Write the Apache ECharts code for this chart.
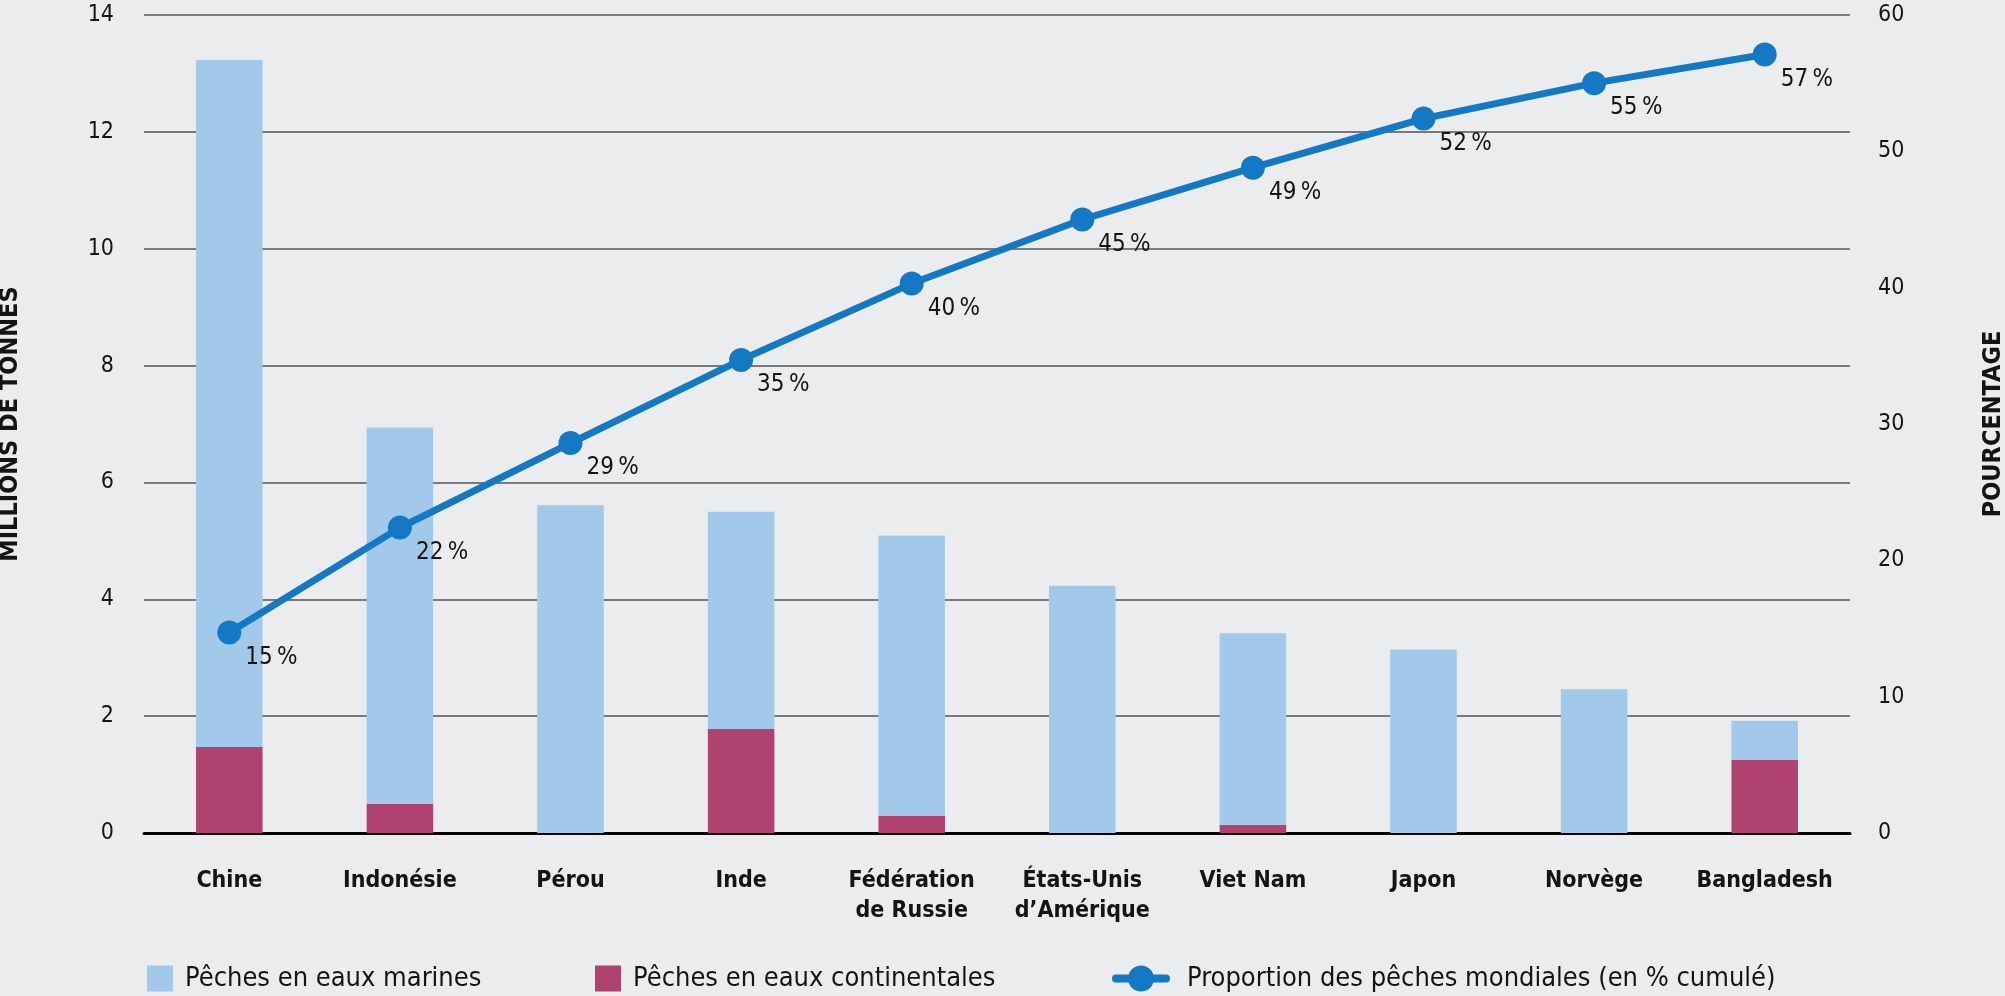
<!DOCTYPE html>
<html>
<head>
<meta charset="utf-8">
<script src="https://cdn.jsdelivr.net/npm/echarts@6/dist/echarts.min.js"></script>
<style>
html,body{margin:0;padding:0;background:#EBECEE;}
#c{width:2005px;height:996px;}
</style>
</head>
<body>
<div id="c"></div>
<script>
var categories = ['Chine','Indonésie','Pérou','Inde','Fédération\nde Russie','États-Unis\nd’Amérique','Viet Nam','Japon','Norvège','Bangladesh'];
var marineTotal = [13.23, 6.94, 5.61, 5.50, 5.09, 4.23, 3.42, 3.14, 2.46, 1.92];
var continental = [1.47, 0.50, 0, 1.78, 0.29, 0, 0.14, 0, 0, 1.25];
var cumulativeShare = [14.7, 22.4, 28.6, 34.7, 40.3, 45.0, 48.8, 52.4, 55.0, 57.1];
var leftTicks = {min: 0, max: 14, interval: 2};
var rightTicks = {min: 0, max: 60, interval: 10};

var names = ['Pêches en eaux marines','Pêches en eaux continentales','Proportion des pêches mondiales (en % cumulé)'];
var marine = marineTotal.map(function(t,i){ return +(t - continental[i]).toFixed(2); });

var FONT = '"Liberation Sans Narrow","DejaVu Sans Condensed","Roboto Condensed",sans-serif';
var INK = '#141414';
var LINE_ICON = 'path://M4 9h50a4 4 0 0 1 0 8h-50a4 4 0 0 1 0-8zM29 0a13 13 0 1 1 0 26a13 13 0 1 1 0-26z';

var chart = echarts.init(document.getElementById('c'), null, {renderer:'canvas'});
function legendFor(item, left, w, gap){
  return {
    data:[item], left:left, top:965, padding:0, itemWidth:w, itemHeight:26,
    selectedMode:false,
    textStyle:{fontFamily:FONT, fontSize:27, color:INK, padding:[0,0,0,gap]}
  };
}
chart.setOption({
  backgroundColor:'#EBECEE',
  animation:false,
  textStyle:{fontFamily:FONT},
  grid:{left:144, right:155, top:15, bottom:163, outerBoundsMode:'none', containLabel:false},
  legend:[
    legendFor({name:names[0], icon:'rect'},147,26,7),
    legendFor({name:names[1], icon:'rect'},595,26,7),
    legendFor({name:names[2], icon:LINE_ICON},1112,58,12)
  ],
  xAxis:{
    type:'category', data:categories,
    axisLine:{lineStyle:{color:'#000', width:3}},
    axisTick:{show:false},
    axisLabel:{fontFamily:FONT, fontSize:23, fontWeight:'bold', color:INK, margin:33, lineHeight:30, interval:0}
  },
  yAxis:[{
    type:'value', min:leftTicks.min, max:leftTicks.max, interval:leftTicks.interval,
    name:'MILLIONS DE TONNES', nameLocation:'middle', nameGap:121,
    nameTextStyle:{fontFamily:FONT, fontSize:25, fontWeight:'bold', color:INK},
    axisLine:{show:false}, axisTick:{show:false},
    axisLabel:{fontFamily:FONT, fontSize:23, color:INK, margin:30},
    splitLine:{lineStyle:{color:'#555', width:1.5}}
  },{
    type:'value', min:rightTicks.min, max:rightTicks.max, interval:rightTicks.interval,
    name:'POURCENTAGE', nameLocation:'middle', nameGap:131,
    nameTextStyle:{fontFamily:FONT, fontSize:25, fontWeight:'bold', color:INK},
    axisLine:{show:false}, axisTick:{show:false},
    axisLabel:{fontFamily:FONT, fontSize:23, color:INK, margin:28},
    splitLine:{show:false}
  }],
  series:[{
    name:names[1], type:'bar', stack:'t', data:continental, barWidth:'39%',
    itemStyle:{color:'#B04272'}
  },{
    name:names[0], type:'bar', stack:'t', data:marine, barWidth:'39%',
    itemStyle:{color:'#A3C9EA'}
  },{
    name:names[2], type:'line', yAxisIndex:1, data:cumulativeShare,
    symbol:'circle', symbolSize:24, z:5,
    lineStyle:{color:'#1479C4', width:7},
    itemStyle:{color:'#1479C4'},
    label:{show:true, position:[28,37], align:'left', verticalAlign:'middle',
      fontFamily:FONT, fontSize:24, color:INK,
      formatter:function(p){ return Math.round(p.value) + '\u2009%'; }}
  }]
});
</script>
</body>
</html>
